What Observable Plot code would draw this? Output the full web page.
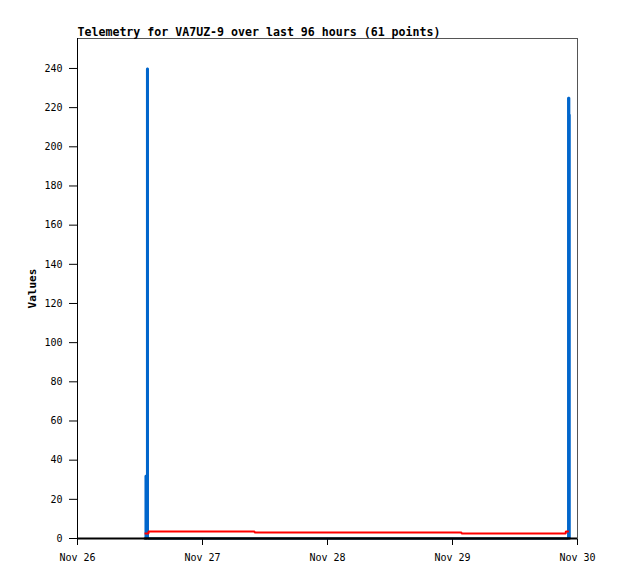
<!DOCTYPE html>
<html><head><meta charset="utf-8">
<script src="https://cdn.jsdelivr.net/npm/d3@7"></script>
<script src="https://cdn.jsdelivr.net/npm/@observablehq/plot@0.6"></script>
<style>body{margin:0;background:#fff}</style>
</head><body><div id="chart"></div>
<script>
const title = "Telemetry for VA7UZ-9 over last 96 hours (61 points)";
const yLabel = "Values";
const xDomain = ["2023-11-26T00:00Z", "2023-11-30T00:00Z"];
const xTicks = ["2023-11-26T00:00Z","2023-11-27T00:00Z","2023-11-28T00:00Z","2023-11-29T00:00Z","2023-11-30T00:00Z"];
const yTicks = [0,20,40,60,80,100,120,140,160,180,200,220,240];
const yMax = 255.3;

// blue channel
const blueTimes = ["2023-11-26T12:52Z","2023-11-26T13:03Z","2023-11-26T13:09Z","2023-11-26T13:20Z","2023-11-26T13:32Z","2023-11-29T22:11Z","2023-11-29T22:26Z","2023-11-29T22:31Z"];
const blueValues = [0, 32, 0, 240, 0, 225, 216.5, 0];
// red channel
const redTimes = ["2023-11-26T12:52Z","2023-11-26T13:38Z","2023-11-27T10:00Z","2023-11-29T01:44Z","2023-11-29T21:45Z","2023-11-29T22:20Z"];
const redValues = [2.55, 3.57, 3.06, 2.55, 3.57, 3.57];
// black channel
const blackTimes = ["2023-11-26T12:52Z","2023-11-29T22:31Z"];
const blackValues = [0, 0];

const toRows = (ts, vs) => ts.map((t, i) => ({t: new Date(t), v: vs[i]}));
const blue = toRows(blueTimes, blueValues);
const red = toRows(redTimes, redValues);
const black = toRows(blackTimes, blackValues);
const fmt = d3.utcFormat("%b %d");

const chart = Plot.plot({
  width: 618, height: 579,
  marginLeft: 77, marginRight: 41, marginTop: 38, marginBottom: 41,
  style: {fontFamily: "DejaVu Sans Mono", fontSize: "10px", color: "#000", background: "#fff"},
  x: {type: "utc", domain: xDomain.map(d => new Date(d)), ticks: xTicks.map(d => new Date(d)), tickFormat: fmt, tickSize: 7, tickPadding: 8, label: null},
  y: {domain: [0, yMax], ticks: yTicks, tickSize: 8, tickPadding: 7, label: null},
  marks: [
    Plot.frame({stroke: "#555"}),
    Plot.line(blue, {x: "t", y: "v", stroke: "#0066cc", strokeWidth: 2, curve: "step-after", strokeLinejoin: "miter", strokeLinecap: "butt"}),
    Plot.line(red, {x: "t", y: "v", stroke: "#ff0000", strokeWidth: 2, curve: "step-after", strokeLinejoin: "miter", strokeLinecap: "butt"}),
    Plot.line(black, {x: "t", y: "v", stroke: "#000", strokeWidth: 2}),
    Plot.ruleX([new Date(xDomain[0])], {stroke: "#000"}),
    Plot.ruleY([0], {stroke: "#000", strokeWidth: 2}),
    Plot.text([title], {frameAnchor: "top-left", dy: -11, textAnchor: "start", fontWeight: "bold", fontSize: 11.6, text: d => d}),
    Plot.text([yLabel], {frameAnchor: "left", dx: -45, rotate: -90, textAnchor: "middle", fontWeight: "bold", fontSize: 11, text: d => d})
  ]
});
document.getElementById("chart").appendChild(chart);
</script>
</body></html>
